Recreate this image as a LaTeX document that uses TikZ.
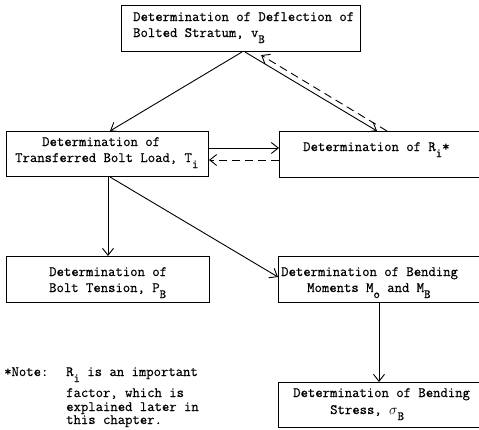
\documentclass[tikz,border=0pt]{standalone}
\usepackage{fontspec}
\setmonofont{Latin Modern Mono}[UprightFeatures={FakeBold=0.5}]
\usetikzlibrary{arrows.meta,calc}
\newcommand{\dn}[1]{\raisebox{-6pt}{\fontsize{12.5pt}{12.5pt}\selectfont #1}}
\begin{document}
\begin{tikzpicture}[x=1pt,y=-1pt,
  box/.style={draw,line width=1pt,rectangle,inner sep=0pt,anchor=north west},
  txt/.style={anchor=base west,inner sep=0pt,font=\fontsize{14.3pt}{16pt}\selectfont\ttfamily},
  arr/.style={line width=0.9pt,-{Straight Barb[length=7pt,width=11pt]}},
  dsh/.style={arr,dash pattern=on 8pt off 5pt}]
\clip (0,0) rectangle (479,429);
% boxes
\node[box,minimum width=239pt,minimum height=46pt] (B1) at (121,5) {};
\node[box,minimum width=202pt,minimum height=45pt] (B2) at (6,131) {};
\node[box,minimum width=215pt,minimum height=46pt] (B3) at (279,131) {};
\node[box,minimum width=203pt,minimum height=46pt] (B4) at (6,256) {};
\node[box,minimum width=215pt,minimum height=46pt] (B5) at (278,256) {};
\node[box,minimum width=215pt,minimum height=45pt] (B6) at (278,382) {};
% texts
\node[txt] (t1a) at (133,21) {Determination of Deflection of};
\node[txt] (t1b) at (133,37) {Bolted Stratum, v\dn{B}};
\node[txt] (t2a) at (42,146) {Determination of};
\node[txt] (t2b) at (15,162) {Transferred Bolt Load, T\dn{i}};
\node[txt] (t3) at (303,151) {Determination of R\dn{i}*};
\node[txt] (t4a) at (49,276) {Determination of};
\node[txt] (t4b) at (49,292) {Bolt Tension, P\dn{B}};
\node[txt] (t5a) at (281,276) {Determination of Bending};
\node[txt] (t5b) at (307,292) {Moments M\dn{o} and M\dn{B}};
\node[txt] (t6a) at (293,397) {Determination of Bending};
\node[txt] (t6b) at (330,414) {Stress, $\sigma$\dn{B}};
\node[txt] (n0) at (4,376) {*Note:};
\node[txt] (n1) at (66,376) {R\dn{i} is an important};
\node[txt] (n2) at (66,397) {factor, which is};
\node[txt] (n3) at (66,411) {explained later in};
\node[txt] (n4) at (66,424) {this chapter.};
% connectors
\draw[arr] ([xshift=121pt]B1.south west) -- ([xshift=104pt]B2.north west);
\draw[arr] ([xshift=124pt]B1.south west) -- ([xshift=98pt]B3.north west);
\draw[dsh,shorten >=6pt] ([xshift=108pt]B3.north west) -- ([xshift=135pt]B1.south west);
\draw[arr] ([yshift=-17pt]B2.north east) -- ([yshift=-17pt]B3.north west);
\draw[dsh] ([yshift=-29pt]B3.north west) -- ([yshift=-29pt]B2.north east);
\draw[arr] ([xshift=102pt]B2.south west) -- ([xshift=102pt]B4.north west);
\draw[arr] ([xshift=104pt]B2.south west) -- ([yshift=-21pt]B5.north west);
\draw[arr] ([xshift=101pt]B5.south west) -- ([xshift=101pt]B6.north west);
\end{tikzpicture}
\end{document}
